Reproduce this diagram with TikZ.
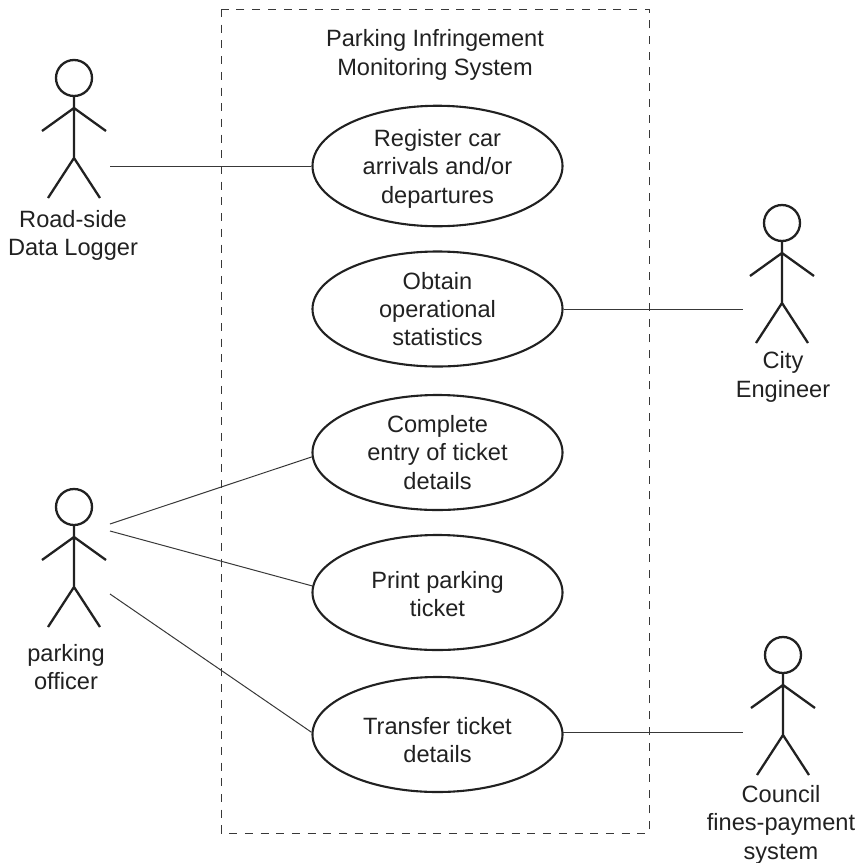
\documentclass[tikz,border=0pt]{standalone}
\usepackage{fontspec}
\setmainfont{Liberation Sans}
\usetikzlibrary{shapes.geometric}
\newcommand{\nudged}[2]{\raisebox{-#1pt}[\height][\depth]{\begin{tabular}{@{}c@{}}#2\end{tabular}}}
\definecolor{ink}{gray}{0.13}
\definecolor{thin}{gray}{0.22}
\tikzset{
  x=1pt,y=-1pt,
  usecase/.style={draw=ink,ellipse,line width=2.1pt,minimum width=250pt,minimum height=115pt,inner sep=0pt,align=center,text=ink,font=\fontsize{23.6}{28.4}\selectfont},
  textlabel/.style={align=center,text=ink,inner sep=0pt,font=\fontsize{23.6}{28.4}\selectfont},
  link/.style={draw=thin,line width=1pt},
  sys/.style={draw=thin,line width=1pt,dash pattern=on 8pt off 7.7pt},
  actor/.pic={
    \draw[ink,line width=2.3pt] (0,0) circle[radius=18];
    \draw[ink,line width=2.3pt] (0,18) -- (0,80) (-32,53) -- (0,30) -- (32,53) (-26,120) -- (0,80) -- (26,120);
  }
}
\begin{document}
\begin{tikzpicture}
\useasboundingbox (0,0) rectangle (857,863);
\draw[sys] (221,9) rectangle (649,833);
\node[textlabel] (title) at (435,55) {Parking Infringement\\Monitoring System};

\node[usecase] (uc1) at (437.5,166) {\nudged{3}{Register car\\arrivals and/or\\departures}};
\node[usecase] (uc2) at (437.5,309) {Obtain\\operational\\statistics};
\node[usecase] (uc3) at (437.5,452.5) {Complete\\entry of ticket\\details};
\node[usecase] (uc4) at (437.5,592.5) {\nudged{4.5}{Print parking\\ticket}};
\node[usecase] (uc5) at (437.5,734.5) {\nudged{8.5}{Transfer ticket\\details}};

\pic at (74,78) {actor};
\pic at (782,223) {actor};
\pic at (74,507) {actor};
\pic at (783,655) {actor};

\node[textlabel] (a1) at (73,235.5) {Road-side\\Data Logger};
\node[textlabel] (a2) at (783,377) {City\\Engineer};
\node[textlabel] (a3) at (66,667) {parking\\officer};
\node[textlabel] (a4) at (781,824.5) {Council\\fines-payment\\system};

\coordinate (p1) at (110,166);
\coordinate (p2) at (743,309);
\coordinate (p3a) at (110,524);
\coordinate (p3b) at (110,531);
\coordinate (p3c) at (110,594);
\coordinate (p4) at (743,733);

\draw[link] (p1) -- (uc1.west);
\draw[link] (uc2.east) -- (p2);
\draw[link] (p3a) -- (uc3.182);
\draw[link] (p3b) -- (uc4.177);
\draw[link] (p3c) -- (uc5.179);
\draw[link] (uc5.1) -- (uc5.1 -| p4);
\end{tikzpicture}
\end{document}
